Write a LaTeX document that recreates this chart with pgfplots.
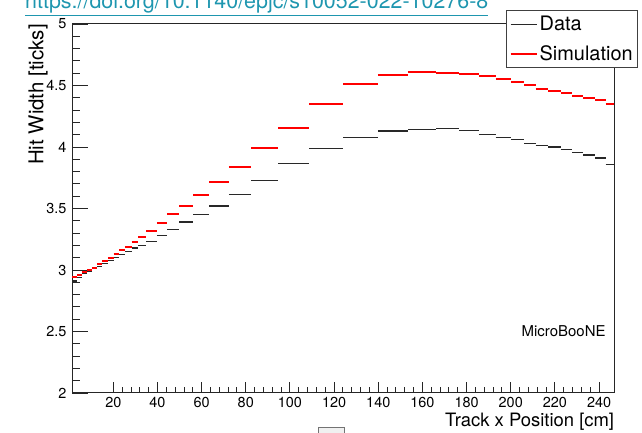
\documentclass[border=0pt]{standalone}
\usepackage{fontspec}
\setmainfont{TeX Gyre Heros}
\usepackage{pgfplots}
\pgfplotsset{compat=1.18}
\definecolor{urlc}{RGB}{30,150,175}
\definecolor{simred}{RGB}{255,0,0}
\definecolor{datablk}{RGB}{40,40,40}
\pgfplotsset{
  frame/.style={
    at={(72bp,40bp)}, anchor=south west,
    scale only axis, width=542.3bp, height=369bp,
    xmin=1.3, xmax=246.9, ymin=2, ymax=5,
    xtick pos=bottom, ytick pos=left, tick align=inside,
    scaled ticks=false,
    axis line style={black!85, line width=1bp},
    every tick/.style={black!85, line width=0.9bp},
    /pgf/number format/assume math mode=true,
    tick label style={font=\fontsize{14.5}{17}\selectfont},
  }
}
\begin{document}
\begin{tikzpicture}[x=1bp,y=1bp]
\useasboundingbox (0,0) rectangle (642,433);
\node[anchor=base west, text=urlc, inner sep=0pt, font=\fontsize{21.5}{24}\selectfont] at (25,424) {\underline{https://doi.org/10.1140/epjc/s10052-022-10276-8}};
\draw[black!55, fill=black!6, line width=1bp] (318,-5) rectangle (344,5);
\begin{axis}[
  frame,
  xtick=\empty, ytick={2,2.5,...,5},
  minor y tick num=4,
  major tick length=16bp, minor tick length=7.7bp,
  yticklabel style={/pgf/number format/fixed, xshift=-2bp},
  ylabel={Hit Width [ticks]},
  ylabel style={font=\fontsize{20.5}{24}\selectfont, at={(rel axis cs:-0.0530,1)}, anchor=base east, inner sep=0pt},
]
\end{axis}
\begin{axis}[
  frame,
  xtick={20,40,...,240}, ytick=\empty,
  minor x tick num=4,
  major tick length=11bp, minor tick length=5.5bp,
  xticklabel style={yshift=-1bp},
  xlabel={Track x Position [cm]},
  xlabel style={font=\fontsize{18.5}{22}\selectfont, at={(rel axis cs:1,-0.0908)}, anchor=base east, inner sep=0pt},
  legend style={at={(1.0438,1.0380)}, anchor=north east, draw=black!75, fill=white, line width=0.8bp,
    font=\fontsize{20}{23}\selectfont, inner xsep=3bp, inner ysep=4bp, row sep=9bp,
    /tikz/every even column/.append style={column sep=4bp}},
  legend cell align=left,
  legend image code/.code={\draw[#1] (0bp,0bp) -- (26bp,0bp);},
]
\addplot[jump mark left, datablk, line width=1.3bp] coordinates {
(1.3,2.91) (3.6,2.94) (5.8,2.97) (8.1,2.99) (10.4,3.01) (12.6,3.03) (15.1,3.05) (17.6,3.075) (20.2,3.10) (22.6,3.125) (25.3,3.15) (28.3,3.18) (31.4,3.20) (35.0,3.23) (39.7,3.28) (44.5,3.33) (49.9,3.39) (56.2,3.45) (63.5,3.52) (72.3,3.615) (82.4,3.73) (94.6,3.865) (108.8,3.99) (124.2,4.08) (139.8,4.13) (153.4,4.14) (166.2,4.15) (176.7,4.135) (185.6,4.10) (193.2,4.075) (200.1,4.06) (206.2,4.03) (211.3,4.01) (217.0,4.00) (222.6,3.98) (227.9,3.955) (232.9,3.935) (238.2,3.91) (243.0,3.86) (246.9,3.86)
};
\addlegendentry{Data}
\addplot[jump mark left, simred, line width=2bp] coordinates {
(1.3,2.94) (3.6,2.96) (5.8,2.98) (8.1,3.00) (10.4,3.02) (12.6,3.045) (15.1,3.07) (17.6,3.10) (20.2,3.13) (22.6,3.16) (25.3,3.19) (28.3,3.23) (31.4,3.265) (35.0,3.315) (39.7,3.38) (44.5,3.455) (49.9,3.52) (56.2,3.61) (63.5,3.715) (72.3,3.84) (82.4,3.99) (94.6,4.155) (108.8,4.35) (124.2,4.51) (139.8,4.585) (153.4,4.61) (166.2,4.60) (176.7,4.595) (185.6,4.58) (193.2,4.55) (200.1,4.525) (206.2,4.50) (211.3,4.475) (217.0,4.455) (222.6,4.435) (227.9,4.415) (232.9,4.40) (238.2,4.38) (243.0,4.35) (246.9,4.35)
};
\addlegendentry{Simulation}
\node[anchor=east, font=\fontsize{15}{18}\selectfont, inner sep=0pt] at (axis cs:243,2.5) {MicroBooNE};
\end{axis}
\end{tikzpicture}
\end{document}
